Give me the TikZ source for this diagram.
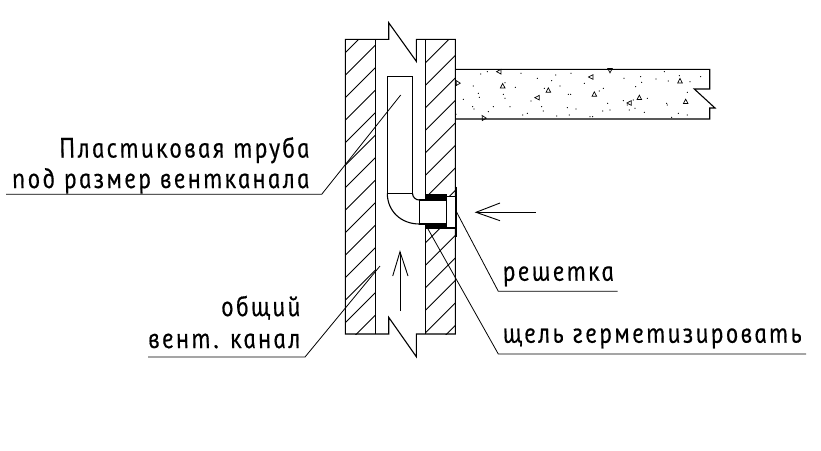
\documentclass[tikz,border=0pt]{standalone}
\usepackage{fontspec}
\newfontfamily\cadfont[FakeBold=0.6,LetterSpace=9.5]{PT Sans Italic}
\usetikzlibrary{positioning}
\definecolor{drawColor}{RGB}{0,0,0}
\tikzset{
  wall/.style={draw=drawColor,line width=1.1pt,line join=miter},
  hatch/.style={draw=drawColor,line width=0.8pt},
  leader/.style={draw=drawColor,line width=0.8pt},
  thin arrow/.style={draw=drawColor,line width=0.9pt},
  seal/.style={fill=drawColor},
  caption/.style={text=drawColor,inner sep=0pt,outer sep=0pt,xslant=-0.21,transform shape,font=\cadfont\fontsize{25}{25}\selectfont},
  speck/.style={fill=drawColor},
  aggregate/.style={draw=drawColor,line width=0.7pt}
}
\newcommand{\captext}[1]{\scalebox{1}[1.12]{#1}}
\begin{document}
\begin{tikzpicture}[x=1pt,y=-1pt]
\path[use as bounding box,fill=white] (0,0) rectangle (821,450);

% hatching of both wall leaves
\begin{scope}
\path[clip] (345.3,39.3) rectangle (375.3,334);
\foreach \s in {0,...,14}
  \path[hatch] ({345.3-10},{398+22.5*\s-345.3+10}) -- ({375.3+10},{398+22.5*\s-375.3-10});
\end{scope}
\begin{scope}
\path[clip] (425.7,39.3) rectangle (455.3,334);
\foreach \s in {0,...,14}
  \path[hatch] ({425.7-10},{488.3+22.5*\s-425.7+10}) -- ({455.3+10},{488.3+22.5*\s-455.3-10});
\end{scope}

% walls with break lines
\path[wall] (345.3,334) -- (345.3,39.3) -- (388.7,39.3) -- (388.7,22.7) -- (416.3,61.3) -- (416.3,39.3) -- (455.3,39.3) -- (455.3,334) -- (416.3,334) -- (416.3,356.7) -- (388.7,317.3) -- (388.7,334) -- cycle;
\path[wall] (375.3,39.3) -- (375.3,334);
\path[wall] (425.7,39.3) -- (425.7,334);

% slab
\path[wall] (455.3,69.3) -- (709.7,69.3) -- (709.7,89) -- (694.3,89) -- (715,108) -- (709.7,108) -- (709.7,119) -- (455.3,119);
\foreach \px/\py in {92/57,112/50,213/55,262/70,317/60,305/77,330/93,363/55,403/85,460/100,448/108,522/70,572/65,575/82,557/95,618/72,643/50,655/78,688/62,720/80,752/65,712/112,70/93,85/115,88/127,40/133,68/155,130/155,115/170,72/162,165/130,160/118,180/155,196/97,165/83,243/138,283/100,275/155,280/168,232/175,218/180,320/183,358/180,352/158,378/162,355/118,362/118,420/185,428/185,473/145,458/168,480/165,520/137,532/150,550/135,592/130,538/165,555/160,583/172,650/145,652/150,712/180,685/175,665/187,18/178}
  \path[speck] ({450+\px/3},{55+\py/3}) circle (0.6);
\foreach \px/\py/\r in {147/50/90,158/93/0,22/83/30,295/106/0,262/128/90,423/66/90,433/118/0,480/46/180,538/144/90,568/128/0,690/78/0,707/140/0,100/188/30}
  \path[aggregate,shift={({450+\px/3},{55+\py/3})},rotate=\r] (-2.3,1.9) -- (2.3,1.9) -- (0,-2.5) -- cycle;

% plastic tube and elbow
\path[wall] (387.3,193.3) -- (387.3,76.3) -- (412.5,76.3) -- (412.5,193.3);
\path[wall] (387.3,193.3) -- (412.5,193.3);
\path[wall] (387.3,193.3) .. controls (387.3,211) and (401,224) .. (419.3,224);
\path[wall] (412.5,193.3) .. controls (412.5,197) and (415.5,200) .. (419.3,200);

% grille spigot and sealing
\path[fill=white] (419.3,200) rectangle (446.7,224);
\path[fill=white] (446.7,197) rectangle (456,228);
\path[seal] (425.7,194) rectangle (446.7,200);
\path[seal] (425.7,224) rectangle (446.7,229.3);
\path[wall] (419.3,200) rectangle (446.7,224);
\path[draw=drawColor,line width=1.4pt] (446.7,196.3) -- (456,196.3);
\path[draw=drawColor,line width=1.4pt] (446.7,228) -- (456,228);
\path[draw=drawColor,line width=1.6pt] (456,186.7) -- (456,236.7);

% flow arrows
\coordinate (inflowTip) at (476,212.3);
\coordinate (riseTip) at (400,251.7);
\path[thin arrow] (535.7,212.3) -- (inflowTip);
\path[thin arrow] (500,203) -- (inflowTip) -- (500,220.7);
\path[thin arrow] (400,311) -- (riseTip);
\path[thin arrow] (392.7,276) -- (riseTip) -- (408,276);

% captions
\node[caption,anchor=base east] (tubeTop) at (310.5,157.5) {\captext{Пластиковая труба}};
\node[caption,anchor=base east] (tubeSize) at (310.5,188) {\captext{под размер вентканала}};
\node[caption,anchor=base east] (ductTop) at (301.5,316) {\captext{общий}};
\node[caption,anchor=base east] (ductName) at (301.5,348) {\captext{вент. канал}};
\node[caption,anchor=base west] (grilleText) at (504,280.7) {\captext{решетка}};
\node[caption,anchor=base west] (sealText) at (504,342.7) {\captext{щель герметизировать}};

% leaders
\coordinate (tubePoint) at (400.7,95);
\coordinate (tubeKnee) at (321.7,194.3);
\coordinate (tubeEnd) at (6,194.3);
\coordinate (ductPoint) at (380,266);
\coordinate (ductKnee) at (305,357);
\coordinate (ductEnd) at (148,357);
\coordinate (grillePoint) at (456.7,212.3);
\coordinate (grilleKnee) at (498.3,291.3);
\coordinate (grilleEnd) at (617.7,291.3);
\coordinate (sealPoint) at (428,229);
\coordinate (sealKnee) at (498.3,354);
\coordinate (sealEnd) at (806,354);
\path[leader] (tubePoint) -- (tubeKnee) -- (tubeEnd);
\path[leader] (ductPoint) -- (ductKnee) -- (ductEnd);
\path[leader] (grillePoint) -- (grilleKnee) -- (grilleEnd);
\path[leader] (sealPoint) -- (sealKnee) -- (sealEnd);
\end{tikzpicture}
\end{document}
